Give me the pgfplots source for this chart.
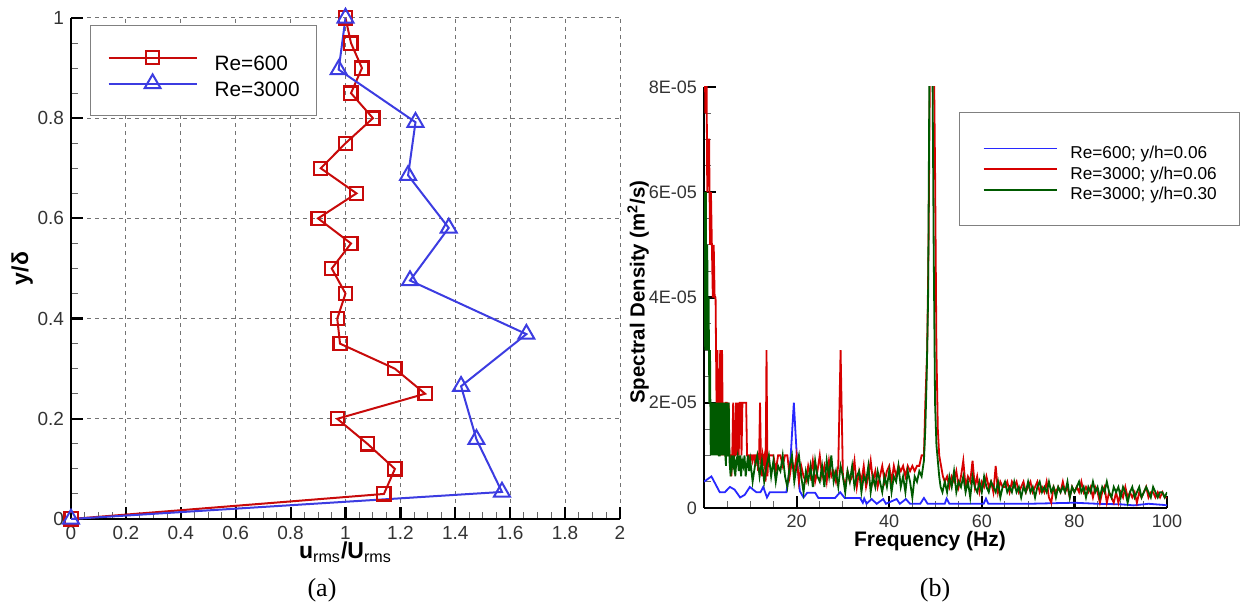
\documentclass[border=0pt]{standalone}
\usepackage{fontspec}
\setmainfont{Liberation Sans}
\newfontfamily\seriffont{Liberation Serif}
\usepackage{pgfplots}
\pgfplotsset{compat=1.18}
\definecolor{lred}{RGB}{200,10,10}
\definecolor{lblue}{RGB}{60,60,225}
\definecolor{rblue}{RGB}{40,40,255}
\definecolor{rred}{RGB}{215,0,0}
\definecolor{rgreen}{RGB}{0,90,0}
\begin{document}
\begin{tikzpicture}
\path[use as bounding box] (0,0) rectangle (621pt,305pt);
\pgfplotsset{
  common/.style={
    scale only axis,
    anchor=south west,
    axis x line*=bottom, axis y line*=left,
    axis line style={-, line width=1.25pt, black},
    tick align=inside,
    major tick length=6pt, minor tick length=3.5pt,
    every major tick/.append style={line width=1.1pt, black},
    every minor tick/.append style={line width=0.5pt, black!60},
    tick label style={font=\fontsize{9.5}{11}\selectfont, text=black!80},
    /pgf/number format/assume math mode=true,
    label style={font=\bfseries\fontsize{10.5}{12}\selectfont},
    minor tick num=3,
  }
}
% ---------------- (a) ----------------
\begin{axis}[common,
  at={(35.5pt,45.5pt)}, width=274.5pt, height=250.5pt,
  xmin=0, xmax=2, ymin=0, ymax=1,
  clip=false,
  xtick={0,0.2,0.4,0.6,0.8,1,1.2,1.4,1.6,1.8,2},
  ytick={0,0.2,0.4,0.6,0.8,1},
  grid=major,
  major grid style={line width=0.5pt, black!55, dash pattern=on 2pt off 2pt},
  xlabel={\fontsize{11.5}{13}\selectfont u\textsubscript{\mdseries rms}/U\textsubscript{\mdseries rms}},
  ylabel={\fontsize{11.5}{13}\selectfont y/δ},
  xlabel style={at={(axis description cs:0.5,-0.066)}, anchor=center},
  ylabel style={at={(axis description cs:-0.089,0.5)}, anchor=center},
  legend style={at={(axis description cs:0.0346,0.986)}, anchor=north west,
    draw=black!50, line width=0.6pt, fill=white,
    inner xsep=8.5pt, inner ysep=9.5pt, column sep=8.5pt, row sep=0pt,
    font=\fontsize{10.4}{12}\selectfont,
    nodes={inner sep=0pt, text height=13pt, text depth=-1pt}},
  legend cell align=left,
  legend image code/.code={\draw[mark repeat=2,mark phase=2,#1] plot coordinates {(0pt,0pt)(22pt,0pt)(44pt,0pt)};},
]
\addplot[color=lred, line width=1pt, mark=square, mark size=3.3pt, mark options={line width=1.1pt}] coordinates {
(0,0)(1.14,0.05)(1.18,0.10)(1.08,0.15)(0.97,0.20)(1.29,0.25)(1.18,0.30)(0.98,0.35)(0.97,0.40)(1.00,0.45)(0.95,0.50)(1.02,0.55)(0.90,0.60)(1.04,0.65)(0.91,0.70)(1.00,0.75)(1.10,0.80)(1.02,0.85)(1.06,0.90)(1.02,0.95)(1.00,1.00)};
\addlegendentry{Re=600}
\addplot[color=lblue, line width=1pt, mark=triangle, mark size=4.6pt, mark options={line width=1pt}] coordinates {
(0,0)(1.57,0.054)(1.477,0.159)(1.421,0.265)(1.659,0.369)(1.235,0.476)(1.376,0.581)(1.228,0.686)(1.255,0.792)(0.975,0.897)(1.0,1.0)};
\addlegendentry{Re=3000}
\end{axis}
% ---------------- (b) ----------------
\begin{axis}[common,
  at={(352pt,51pt)}, width=231.5pt, height=210.5pt,
  xmin=0, xmax=100, ymin=0, ymax=8,
  xtick={0,20,40,60,80,100}, xticklabels={,20,40,60,80,100},
  ytick={0,2,4,6,8}, yticklabels={0,2E-05,4E-05,6E-05,8E-05},
  tick label style={font=\fontsize{9}{11}\selectfont},
  xlabel={Frequency (Hz)},
  ylabel={\fontsize{10.2}{12}\selectfont Spectral Density (m\textsuperscript{2}/s)},
  xlabel style={at={(axis description cs:0.488,-0.079)}, anchor=center},
  ylabel style={at={(axis description cs:-0.1425,0.513)}, anchor=center},
  legend style={at={(axis description cs:0.5508,0.9406)}, anchor=north west,
    draw=black!50, line width=0.6pt, fill=white,
    inner xsep=11.5pt, inner ysep=12.75pt, column sep=6.5pt, row sep=0pt,
    font=\fontsize{8.6}{9.5}\selectfont,
    nodes={inner sep=0pt, text height=10.3pt, text depth=-0.8pt}},
  legend cell align=left,
  legend image code/.code={\draw[#1] (0pt,0pt) -- (36.5pt,0pt);},
]
\addplot[color=rblue, line width=0.9pt] coordinates {
(0,0.5)(0.8,0.55)(1.6,0.6)(2.5,0.45)(3.4,0.3)(4.5,0.3)(5.6,0.4)(6.6,0.35)(7.8,0.2)(8.8,0.25)(9.9,0.4)(11.3,0.3)(12.2,0.3)(12.8,0.4)(13.6,0.2)(14.2,0.3)(17.8,0.3)(18.6,0.8)(19.4,2.0)(20.1,0.9)(20.7,0.32)(21.5,0.2)(22.3,0.29)(24,0.29)(24.7,0.19)(28.3,0.19)(29.4,0.3)(30.4,0.19)(33.7,0.19)(34.3,0.1)(34.6,0.18)(35.1,0.08)(36.2,0.17)(37.3,0.08)(38.7,0.17)(39.3,0.08)(41.6,0.17)(42.3,0.08)(43.6,0.17)(44.5,0.08)(46.7,0.08)(47.5,0.19)(48.3,0.08)(52,0.08)(52.4,0.18)(53,0.08)(60.4,0.08)(60.9,0.18)(61.4,0.08)(70,0.08)(80,0.1)(85,0.08)(90,0.07)(92.8,0.05)(96,0.08)(99,0.06)(100,0.05)};
\addlegendentry{Re=600; y/h=0.06}
\addplot[color=rred, line width=0.9pt] coordinates {
(0.1,9)(0.3,7.5)(0.5,9)(0.7,6)(0.9,7)(1.1,7)(1.3,5)(1.5,6)(1.7,5)(1.9,4)(2.1,5)(2.3,4)(2.5,4)(2.7,2)(2.9,3)(3.1,1)(3.3,2)(3.5,3)(3.7,1)(3.9,3)(4.1,1)(4.3,2)(4.5,1)(4.7,2)(4.9,2)(5.1,1)(5.3,2)(5.5,1)(5.7,1)(5.9,0.6)(6.1,1)(6.3,2)(6.5,1)(6.7,1)(6.9,2)(7.1,1)(7.3,2)(7.5,1)(7.7,2)(7.9,2)(8.1,1)(8.3,2)(8.5,2)(8.7,2)(8.9,2)(9.1,2)(9.3,1)(9.5,1)(9.7,1)(9.9,0.8)(10.1,1)(10.3,1)(10.5,0.9)(10.7,1)(10.9,1)(11.1,0.8)(11.3,1)(11.5,1)(11.7,0.7)(11.9,1)(12.1,2)(12.3,0.9)(12.5,0.6)(12.7,1)(12.9,0.9)(13.1,1)(13.3,0.5)(13.5,3)(13.7,0.6)(13.9,1)(14.1,1)
(14.5,1)(15,1)(15.5,0.7)(16,1)(16.5,1)(17,0.8)(17.5,1)(18,1)(18.5,0.6)(19,0.9)(19.5,0.7)(20,1)(20.5,0.5)(21,0.8)(21.5,0.6)(22,0.5)(22.5,0.8)(23,0.6)(23.5,0.9)(24,0.5)(24.5,0.7)(25,1)(25.5,0.6)(26,0.8)(26.5,0.5)(27,0.9)(27.5,0.6)(28,0.7)(28.5,0.5)(29,0.8)(29.5,3)(30,0.6)(30.5,0.4)(31,0.7)(31.5,0.5)(32,0.6)(32.5,0.9)(33,0.4)(33.5,0.7)(34,0.5)(34.5,0.8)(35,0.4)(35.5,0.6)(36,0.9)(36.5,0.5)(37,0.7)(37.5,0.4)(38,0.6)(38.5,0.8)(39,0.5)(39.5,0.7)(40,0.8)(40.5,0.5)(41,0.8)(41.5,0.6)(42,0.8)(42.5,0.7)(43,0.8)(43.5,0.6)(44,0.8)(44.5,0.7)(45,0.8)(45.5,0.7)(46,0.8)(46.5,0.8)(47,1.0)(47.5,1.0)(47.8,2)(48.2,3)(48.5,5)(48.8,8.5)(49.2,9)(49.6,9)(49.9,6.5)(50.2,3)(50.5,1.5)(50.8,1)(51.2,0.8)(51.6,0.6)(52,0.5)(52.5,0.6)(53,0.4)(53.5,0.6)(54,0.5)(54.5,0.7)(55,0.4)(55.5,0.6)(56,0.9)(56.5,0.4)(57,0.6)(57.5,0.5)(58,0.9)(58.5,0.4)(59,0.6)(59.5,0.3)(60,0.5)(60.5,0.4)(61,0.6)(61.5,0.4)(62,0.5)(62.5,0.3)(63,0.8)(63.5,0.3)(64,0.5)(64.5,0.4)(65,0.4)(65.5,0.5)(66,0.3)(66.5,0.5)(67,0.4)(67.5,0.5)(68,0.3)(68.5,0.4)(69,0.5)(69.5,0.3)(70,0.4)(70.5,0.5)(71,0.3)(71.5,0.4)(72,0.5)(72.5,0.3)(73,0.4)(73.5,0.3)(74,0.5)(74.5,0.2)(75,0.1)(75.5,0.4)(76,0.3)(76.5,0.4)(77,0.3)(77.5,0.5)(78,0.3)(78.5,0.4)(79,0.2)(79.5,0.4)(80,0.3)(80.5,0.4)(81,0.3)(81.5,0.5)(82,0.3)(82.5,0.4)(83,0.3)(83.5,0.4)(84,0.2)(84.5,0.4)(85,0.3)(85.5,0.1)(86,0.3)(86.5,0.4)(87,0.1)(87.5,0.3)(88,0.2)(88.5,0.1)(89,0.3)(89.5,0.1)(90,0.3)(90.5,0.2)(91,0.4)(91.5,0.2)(92,0.3)(92.5,0.2)(93,0.3)(93.5,0.1)(94,0.3)(94.5,0.2)(95,0.3)(95.5,0.4)(96,0.2)(96.5,0.3)(97,0.3)(97.5,0.2)(98,0.3)(98.5,0.2)(99,0.3)(99.5,0.2)(100,0.2)};
\addlegendentry{Re=3000; y/h=0.06}
\addplot[color=rgreen, line width=0.9pt] coordinates {
(0.1,6)(0.25,3)(0.4,6)(0.55,3)(0.7,5)(0.85,3)(1.0,4)(1.15,2)(1.3,3)(1.45,1)(1.6,2)(1.75,1)(1.9,2)(2.05,1)(2.2,2)(2.35,1)(2.5,2)(2.65,1)(2.8,2)(2.95,1)(3.1,2)(3.25,1)(3.4,1)(3.55,2)(3.7,1)(3.85,2)(4.0,1)(4.15,2)(4.3,1)(4.45,2)(4.6,1)(4.75,0.8)(4.9,2)(5.05,1)(5.2,1)(5.35,2)(5.5,0.9)(5.75,0.6)(6,1)(6.25,0.8)(6.5,1)(6.75,0.6)(7,0.9)(7.25,1)(7.5,0.7)(7.75,1)(8,0.6)(8.25,0.9)(8.5,0.8)(8.75,1)(9,0.6)(9.25,0.8)(9.5,1)(9.75,0.7)(10,0.9)(10.5,0.5)(11,0.8)(11.5,1)(12,0.6)(12.5,0.9)(13,0.5)(13.5,0.8)(14,1)(14.5,0.6)(15,0.9)(15.5,0.5)(16,0.8)(16.5,0.7)(17,1)(17.5,0.6)(18,0.4)(18.5,0.8)(19,1)(19.5,0.5)(20,0.8)(20.5,1)(21,0.6)(21.5,0.3)(22,0.7)(22.5,0.5)(23,0.8)(23.5,0.4)(24,0.9)(24.5,0.6)(25,0.5)(25.5,0.8)(26,0.4)(26.5,0.9)(27,0.6)(27.5,1)(28,0.5)(28.5,0.7)(29,0.4)(29.5,0.8)(30,0.6)(30.5,0.3)(31,0.7)(31.5,0.5)(32,0.8)(32.5,0.4)(33,0.6)(33.5,0.7)(34,0.3)(34.5,0.6)(35,0.5)(35.5,0.8)(36,0.3)(36.5,0.6)(37,0.4)(37.5,0.7)(38,0.5)(38.5,0.3)(39,0.6)(39.5,0.4)(40,0.7)(40.5,0.3)(41,0.6)(41.5,0.5)(42,0.8)(42.5,0.4)(43,0.6)(43.5,0.3)(44,0.7)(44.5,0.5)(45,0.2)(45.5,0.6)(46,0.5)(46.5,0.7)(47,0.6)(47.5,0.9)(47.8,1.5)(48.1,2.5)(48.4,4)(48.7,8.5)(49.0,9)(49.3,9)(49.6,5)(49.9,2)(50.2,1.2)(50.5,0.9)(50.8,0.6)(51.1,0.4)(51.5,0.3)(52,0.5)(52.5,0.3)(53,0.6)(53.5,0.4)(54,0.7)(54.5,0.3)(55,0.5)(55.5,0.4)(56,0.6)(56.5,0.3)(57,0.5)(57.5,0.2)(58,0.6)(58.5,0.4)(59,0.3)(59.5,0.5)(60,0.3)(60.5,0.6)(61,0.4)(61.5,0.3)(62,0.5)(62.5,0.4)(63,0.3)(63.5,0.5)(64,0.2)(64.5,0.4)(65,0.5)(65.5,0.3)(66,0.4)(66.5,0.3)(67,0.5)(67.5,0.3)(68,0.4)(68.5,0.2)(69,0.4)(69.5,0.3)(70,0.5)(70.5,0.3)(71,0.4)(71.5,0.2)(72,0.4)(72.5,0.5)(73,0.3)(73.5,0.4)(74,0.3)(74.5,0.5)(75,0.3)(75.5,0.4)(76,0.2)(76.5,0.4)(77,0.3)(77.5,0.4)(78,0.3)(78.5,0.5)(79,0.2)(79.5,0.4)(80,0.3)(80.5,0.4)(81,0.5)(81.5,0.3)(82,0.4)(82.5,0.2)(83,0.4)(83.5,0.3)(84,0.5)(84.5,0.3)(85,0.4)(85.5,0.2)(86,0.4)(86.5,0.3)(87,0.5)(87.5,0.3)(88,0.2)(88.5,0.4)(89,0.3)(89.5,0.4)(90,0.2)(90.5,0.4)(91,0.3)(91.5,0.1)(92,0.3)(92.5,0.4)(93,0.2)(93.5,0.3)(94,0.4)(94.5,0.2)(95,0.3)(95.5,0.4)(96,0.3)(96.5,0.2)(97,0.4)(97.5,0.3)(98,0.2)(98.5,0.3)(99,0.3)(99.5,0.2)(100,0.3)};
\addlegendentry{Re=3000; y/h=0.30}
\end{axis}
\node[font=\seriffont\fontsize{13}{15}\selectfont] at (161pt,10pt) {(a)};
\node[font=\seriffont\fontsize{13}{15}\selectfont] at (467.5pt,10pt) {(b)};
\end{tikzpicture}
\end{document}
